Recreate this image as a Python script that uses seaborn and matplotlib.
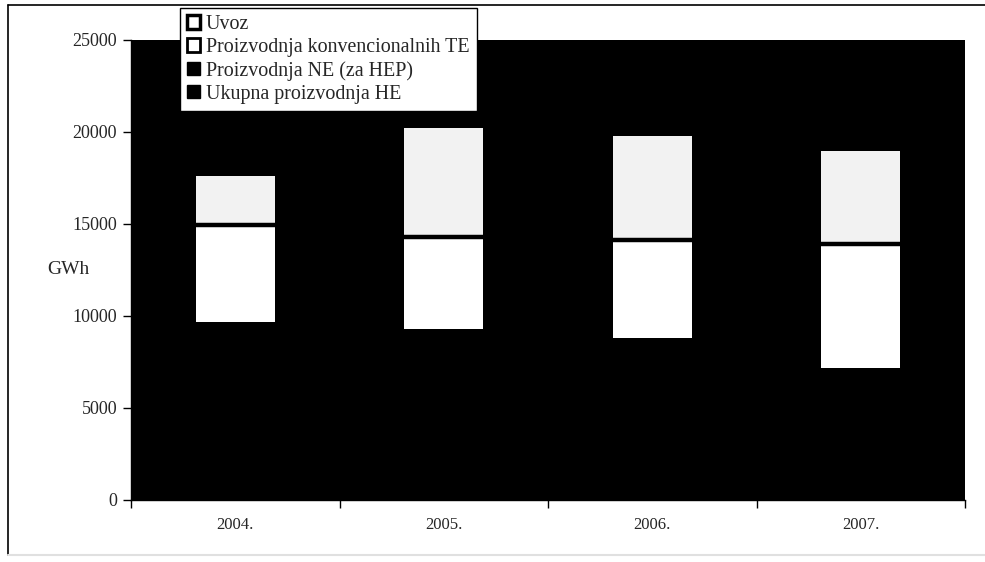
import numpy as np
import pandas as pd
import matplotlib
matplotlib.use("Agg")
import matplotlib.pyplot as plt
from matplotlib.patches import Patch
from matplotlib.lines import Line2D
import seaborn as sns

# data (GWh)
years = ["2004.", "2005.", "2006.", "2007."]
he = [6960, 6455, 6170, 4455]        # Ukupna proizvodnja HE
ne = [2730, 2820, 2650, 2700]        # Proizvodnja NE (za HEP)
te = [5280, 5015, 5330, 6740]        # Proizvodnja konvencionalnih TE
uvoz = [2655, 5910, 5650, 5070]      # Uvoz

labels = ["Uvoz", "Proizvodnja konvencionalnih TE",
          "Proizvodnja NE (za HEP)", "Ukupna proizvodnja HE"]

df = pd.DataFrame({"godina": years, "HE": he, "NE": ne, "TE": te, "Uvoz": uvoz})
df["c_he"] = df["HE"]
df["c_ne"] = df["c_he"] + df["NE"]
df["c_te"] = df["c_ne"] + df["TE"]
df["c_uvoz"] = df["c_te"] + df["Uvoz"]

sns.set_theme(style="white")
plt.rcParams["font.family"] = ["Liberation Serif", "DejaVu Serif"]

fig = plt.figure(figsize=(9.85, 5.62), dpi=100)
ax = fig.add_axes([131 / 985, 1 - 500 / 562, 834 / 985, 460 / 562])
ax.set_facecolor("black")

# stacked bars: draw cumulative totals from the top down
w = 0.38
sns.barplot(data=df, x="godina", y="c_uvoz", color="#f2f2f2", width=w,
            saturation=1, errorbar=None, linewidth=0, ax=ax)
sns.barplot(data=df, x="godina", y="c_te", color="white", width=w,
            saturation=1, errorbar=None, linewidth=0, ax=ax)
sns.barplot(data=df, x="godina", y="c_ne", color="black", width=w,
            saturation=1, errorbar=None, linewidth=0, ax=ax)
sns.barplot(data=df, x="godina", y="c_he", color="black", width=w,
            saturation=1, errorbar=None, linewidth=0, ax=ax)

# dark separator between TE and Uvoz segments
xpos = np.arange(len(years))
ax.hlines(df["c_te"], xpos - w / 2, xpos + w / 2, color="black", linewidth=3.2)

ax.set_xlim(-0.5, 3.5)
ax.set_ylim(0, 25000)
ax.set_yticks(range(0, 25001, 5000))
ax.tick_params(axis="y", which="major", left=True, length=6, width=1,
               color="black", labelsize=13, pad=4)
ax.set_xticks([-0.5, 0.5, 1.5, 2.5, 3.5])
ax.set_xticklabels([])
ax.set_xticks(range(4), minor=True)
ax.set_xticklabels(years, minor=True)
ax.tick_params(axis="x", which="major", bottom=True, length=6, width=1, color="black")
ax.tick_params(axis="x", which="minor", bottom=False, length=0, labelsize=12, pad=12)
ax.set_xlabel("")
ax.set_ylabel("")
for s in ["top", "right"]:
    ax.spines[s].set_visible(False)
for s in ["left", "bottom"]:
    ax.spines[s].set_color("black")
    ax.spines[s].set_linewidth(1)

fig.text(68 / 985, 1 - 270 / 562, "GWh", ha="center", va="center", fontsize=14)

handles = [
    Patch(facecolor="white", edgecolor="black", linewidth=2.5),
    Patch(facecolor="white", edgecolor="black", linewidth=2),
    Patch(facecolor="black", edgecolor="black"),
    Patch(facecolor="black", edgecolor="black"),
]
leg = fig.legend(handles, labels, loc="upper left",
                 bbox_to_anchor=(180 / 985, 1 - 8 / 562),
                 fontsize=14.4, frameon=True, fancybox=False, framealpha=1,
                 edgecolor="black", handlelength=0.65, handleheight=0.65,
                 handletextpad=0.3, labelspacing=0.2, borderpad=0.35,
                 borderaxespad=0)
leg.get_frame().set_linewidth(1)

# outer frame of the chart (top and left solid, bottom faint)
fig.add_artist(Line2D([8 / 985, 1], [1 - 5 / 562, 1 - 5 / 562],
                      transform=fig.transFigure, color="black", linewidth=1.2))
fig.add_artist(Line2D([8 / 985, 8 / 985], [1 - 5 / 562, 1 - 555 / 562],
                      transform=fig.transFigure, color="black", linewidth=1.2))
fig.add_artist(Line2D([8 / 985, 1], [1 - 555 / 562, 1 - 555 / 562],
                      transform=fig.transFigure, color="#e0e0e0", linewidth=1.5))

fig.savefig("out.png", dpi=100)
